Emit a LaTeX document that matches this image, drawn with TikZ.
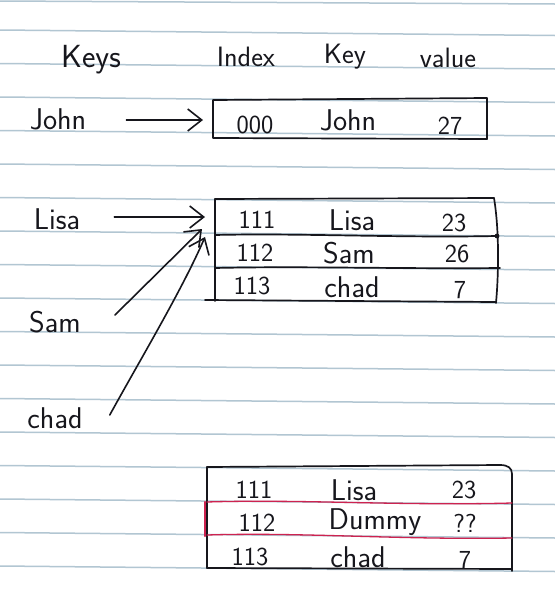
\documentclass[tikz,border=0pt]{standalone}
\usepackage{fontspec}
\usetikzlibrary{arrows.meta}
\definecolor{ruleblue}{RGB}{178,198,210}
\definecolor{ink}{RGB}{22,22,28}
\definecolor{redink}{RGB}{205,35,80}
\tikzset{
  ruled/.style={draw=ruleblue, line width=1.5pt},
  pen/.style={draw=ink, line width=1.7pt, line join=round, line cap=round},
  redpen/.style={draw=redink, line width=1.3pt, line cap=round},
  head/.style={text=ink, inner sep=0pt, font=\sffamily\fontsize{28}{32}\selectfont},
  word/.style={text=ink, inner sep=0pt, font=\sffamily\fontsize{30}{34}\selectfont},
  num/.style={text=ink, inner sep=0pt, font=\sffamily\fontsize{26}{30}\selectfont},
  idx/.style={text=ink, inner sep=0pt, font=\sffamily\fontsize{26}{30}\selectfont\addfontfeature{LetterSpace=22}},
  arr/.style={draw=ink, line width=1.6pt, line cap=round,
    -{Straight Barb[length=14pt,width=22pt,line width=1.6pt]}}
}
\begin{document}
\begin{tikzpicture}[x=1pt,y=-1pt]
\useasboundingbox (0,0) rectangle (555,590);
\fill[white] (0,0) rectangle (555,590);
% ruled paper
\draw[ruled] (0,1) -- (555,4);
\foreach \k in {0,...,16} {\draw[ruled] (0,{30+33.5*\k}) -- (555,{35.5+33.5*\k});}

% header
\node[head, font=\sffamily\fontsize{32}{36}\selectfont] (hkeys) at (91,60) {Keys};
\node[head] (hindex) at (246,57) {Index};
\node[head] (hkey) at (345,57) {Key};
\node[head] (hvalue) at (448,58) {value};

% John row
\node[word] (john) at (58,119) {John};
\draw[pen] (213,100) -- (487,98) -- (487,139) -- (213,138) -- cycle;
\coordinate (tipJohn) at (203,120);
\node[idx] (j0) at (255,125) {000};
\node[word] (j1) at (348,120) {John};
\node[num] (j2) at (450,126) {27};
\draw[arr] ([shift={(40,1)}]john.east) -- (tipJohn);

% middle table
\node[word] (lisa) at (57,219) {Lisa};
\node[word] (sam) at (55,322) {Sam};
\node[word] (chad) at (55,418) {chad};
\draw[pen] (215,199) -- (494,198);
\draw[pen] (215,199) -- (215,301);
\draw[pen] (494,198) .. controls (499,228) and (499,270) .. (496,303);
\draw[pen] (215,235) .. controls (300,233) and (400,238) .. (496,236);
\draw[pen] (215,268) .. controls (300,266) and (400,269) .. (500,268);
\draw[pen] (205,300) -- (496,302);
\fill[ink] (497,236) circle (2.4pt);
\node[idx] (m11) at (257,220) {111};
\node[word] (m12) at (352,220) {Lisa};
\node[num] (m13) at (454,223) {23};
\node[idx] (m21) at (255,253) {112};
\node[word] (m22) at (349,253) {Sam};
\node[num] (m23) at (457,254) {26};
\node[idx] (m31) at (252,286) {113};
\node[word] (m32) at (352,287) {chad};
\node[num] (m33) at (460,290) {7};
\coordinate (tipLisa) at (205,217);
\coordinate (tipSam) at (202,229);
\coordinate (tipChad) at (205,237);
\draw[arr] ([shift={(34,-2)}]lisa.east) -- (tipLisa);
\draw[arr] ([shift={(34,-7)}]sam.east) -- (tipSam);
\draw[arr] ([shift={(27,-3)}]chad.east) .. controls (140,360) and (182,290) .. (tipChad);

% bottom table
\draw[pen] (207,467) -- (207,568);
\draw[pen] (207,467) -- (500,465) .. controls (508,465) and (512,468) .. (512,474) -- (512,571);
\draw[pen] (207,568) -- (512,569);
\draw[redpen] (207,502) .. controls (300,499) and (400,506) .. (512,503);
\draw[redpen] (207,535) .. controls (300,532) and (400,540) .. (512,538);
\draw[redpen, line width=2.2pt] (205,502) -- (205,536);
\node[idx] (b11) at (254,490) {111};
\node[word] (b12) at (354,490) {Lisa};
\node[num] (b13) at (464,490) {23};
\node[idx] (b21) at (257,523) {112};
\node[word] (b22) at (375,522) {Dummy};
\node[num] (b23) at (465,523) {??};
\node[idx] (b31) at (250,557) {113};
\node[word] (b32) at (358,557) {chad};
\node[num] (b33) at (465,560) {7};
\end{tikzpicture}
\end{document}
